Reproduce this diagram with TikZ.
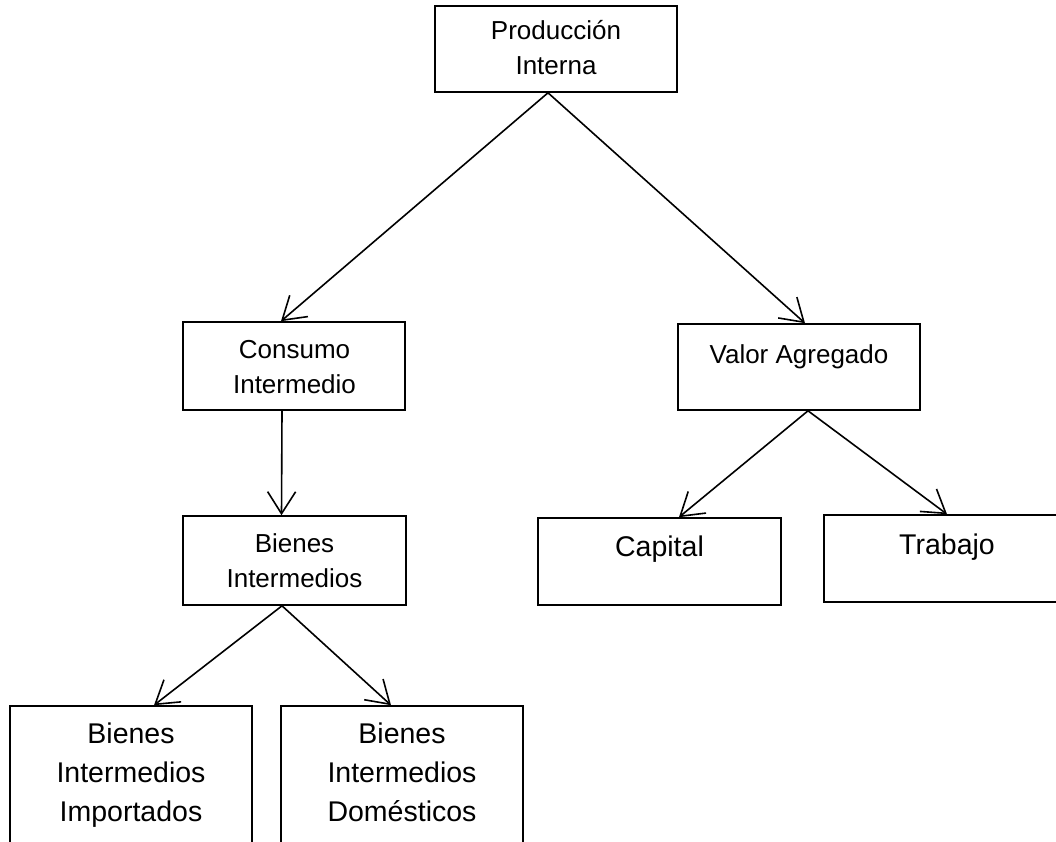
\documentclass[tikz,border=0pt]{standalone}
\usepackage{fontspec}
\setmainfont{Liberation Sans}
\usetikzlibrary{arrows.meta}
\begin{document}
\begin{tikzpicture}[x=1pt,y=-1pt,
  box/.style={draw, line width=1.6pt, rectangle, inner sep=0pt},
  txta/.style={align=center, inner sep=0pt, anchor=base, font=\fontsize{26}{35}\selectfont},
  txtb/.style={align=center, inner sep=0pt, anchor=base, font=\fontsize{28.5}{39}\selectfont},
  arr/.style={line width=1.6pt, -{Straight Barb[length=22pt 0 0,width=28pt 0 0,line width=1.6pt]}}]
\clip (0,0) rectangle (1056,842);
% boxes
\node[box, minimum width=242pt, minimum height=86pt] (prod) at (556,49) {};
\node[box, minimum width=222pt, minimum height=88pt] (cons) at (294,366) {};
\node[box, minimum width=242pt, minimum height=86pt] (valor) at (799,367) {};
\node[box, minimum width=223pt, minimum height=89pt] (bien) at (294.5,560.5) {};
\node[box, minimum width=243pt, minimum height=87pt] (cap) at (659.5,561.5) {};
\node[box, minimum width=246pt, minimum height=87pt] (trab) at (947,558.5) {};
\node[box, minimum width=242pt, minimum height=154pt] (imp) at (131,783) {};
\node[box, minimum width=242pt, minimum height=154pt] (dom) at (402,783) {};
% texts (anchored at the baseline of their last line)
\node[txta] (prodt) at (556,75) {Producción\\Interna};
\node[txta] (const) at (294.5,393) {Consumo\\Intermedio};
\node[txta] (valort) at (799,363) {Valor Agregado};
\node[txta] (bient) at (294.5,587) {Bienes\\Intermedios};
\node[txtb] (capt) at (659.5,556) {Capital};
\node[txtb] (trabt) at (947,554) {Trabajo};
\node[txtb] (impt) at (131,821) {Bienes\\Intermedios\\Importados};
\node[txtb] (domt) at (402,821) {Bienes\\Intermedios\\Domésticos};
% connectors
\draw[arr] ([xshift=-8pt]prod.south) -- ([xshift=-13pt]cons.north);
\draw[arr] ([xshift=-8pt]prod.south) -- ([xshift=6pt]valor.north);
\draw[arr] ([xshift=-12pt]cons.south) -- ([xshift=-13pt]bien.north);
\draw[arr] ([xshift=9pt]valor.south) -- ([xshift=19.5pt]cap.north);
\draw[arr] ([xshift=9pt]valor.south) -- (trab.north);
\draw[arr] ([xshift=-12.5pt]bien.south) -- ([xshift=23pt]imp.north);
\draw[arr] ([xshift=-12.5pt]bien.south) -- ([xshift=-11pt]dom.north);
\end{tikzpicture}
\end{document}
